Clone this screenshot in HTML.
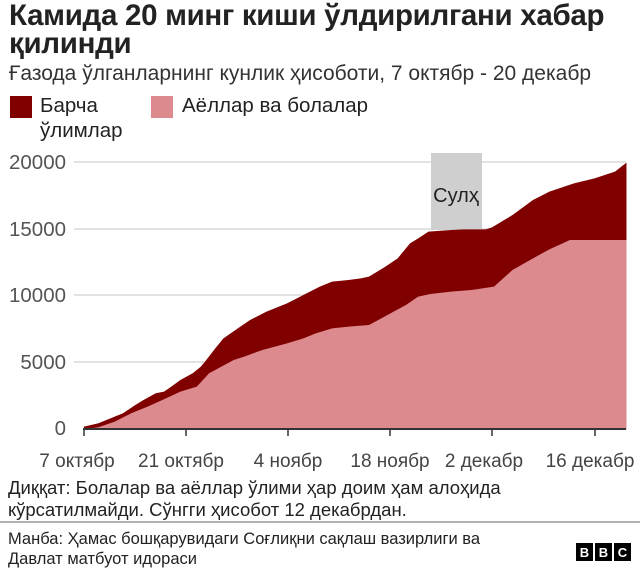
<!DOCTYPE html>
<html><head><meta charset="utf-8"><style>
body{margin:0;width:640px;height:568px;background:#fff;overflow:hidden;font-family:"Liberation Sans","DejaVu Sans",sans-serif;color:#222;position:relative}
.t{position:absolute;white-space:nowrap}
</style></head><body>
<div class="t" style="left:9px;top:2px;font-size:29.5px;font-weight:bold;line-height:28px;letter-spacing:-0.3px">Камида 20 минг киши ўлдирилгани хабар<br>қилинди</div>
<div class="t" style="left:9px;top:62px;font-size:21px;color:#333;letter-spacing:0px">Ғазода ўлганларнинг кунлик ҳисоботи, 7 октябр - 20 декабр</div>
<div class="t" style="left:10px;top:96px;width:22px;height:22px;background:#800000"></div>
<div class="t" style="left:40px;top:93px;font-size:20.5px;line-height:25px">Барча<br>ўлимлар</div>
<div class="t" style="left:151px;top:96px;width:22px;height:22px;background:#dc8a8e"></div>
<div class="t" style="left:182px;top:93px;font-size:20.5px;line-height:25px">Аёллар ва болалар</div>
<svg class="t" style="left:0;top:0" width="640" height="568">
<g stroke="#d8d8d8" stroke-width="1.5">
<line x1="74" y1="162" x2="626" y2="162"/><line x1="74" y1="229" x2="626" y2="229"/><line x1="74" y1="295" x2="626" y2="295"/><line x1="74" y1="362" x2="626" y2="362"/>
</g>
<rect x="431" y="153" width="51" height="77" fill="#cfcfcf"/>
<text x="456" y="202" font-size="20" text-anchor="middle" fill="#222" font-family="Liberation Sans">Сулҳ</text>
<g transform="translate(0,140) scale(0.41,0.3333)">
<polygon fill="#800000" points="205,868 205,860 240,850 270,835 300,820 330,795 350,780 380,760 400,755 420,738 440,720 470,700 490,680 500,665 525,625 545,595 580,565 610,540 650,515 700,490 740,465 780,440 810,425 850,420 880,415 900,410 940,380 970,355 1000,310 1020,295 1045,275 1100,270 1130,268 1185,268 1200,262 1250,225 1300,180 1340,155 1400,130 1450,115 1500,95 1528,68 1528,868"/>
<polygon fill="#dc8a8e" points="205,868 240,862 280,845 320,820 360,800 400,778 440,755 480,740 510,700 540,680 570,660 600,648 640,630 700,610 740,595 770,580 810,565 850,560 900,555 930,535 960,515 990,495 1020,470 1050,462 1100,455 1150,450 1205,440 1250,390 1300,355 1340,328 1390,300 1528,300 1528,868"/>
</g>
<line x1="83" y1="429" x2="626" y2="429" stroke="#333" stroke-width="2"/>
<g stroke="#333" stroke-width="1.5">
<line x1="84" y1="429" x2="84" y2="436"/><line x1="186" y1="429" x2="186" y2="436"/><line x1="288" y1="429" x2="288" y2="436"/><line x1="390" y1="429" x2="390" y2="436"/><line x1="492" y1="429" x2="492" y2="436"/><line x1="595" y1="429" x2="595" y2="436"/>
</g>
<g font-size="20.5" fill="#555" text-anchor="end" font-family="Liberation Sans">
<text x="66" y="169">20000</text><text x="66" y="236">15000</text><text x="66" y="302">10000</text><text x="66" y="369">5000</text><text x="66" y="435">0</text>
</g>
<g font-size="19" fill="#444" text-anchor="middle" font-family="Liberation Sans">
<text x="77" y="467">7 октябр</text><text x="181" y="467">21 октябр</text><text x="288" y="467">4 ноябр</text><text x="390" y="467">18 ноябр</text><text x="484" y="467">2 декабр</text><text x="590" y="467">16 декабр</text>
</g>
<line x1="0" y1="522" x2="640" y2="522" stroke="#666" stroke-width="1"/>
<g fill="#000"><rect x="576" y="543" width="17" height="18"/><rect x="595" y="543" width="17" height="18"/><rect x="614" y="543" width="17" height="18"/></g>
<g fill="#fff" font-size="13" font-weight="bold" text-anchor="middle" font-family="Liberation Sans"><text x="584.5" y="557">B</text><text x="603.5" y="557">B</text><text x="622.5" y="557">C</text></g>
</svg>
<div class="t" style="left:8px;top:477px;font-size:18.5px;line-height:22px;color:#222">Диққат: Болалар ва аёллар ўлими ҳар доим ҳам алоҳида<br>кўрсатилмайди. Сўнгги ҳисобот 12 декабрдан.</div>
<div class="t" style="left:8px;top:529px;font-size:16.5px;line-height:20px;color:#222">Манба: Ҳамас бошқарувидаги Соғлиқни сақлаш вазирлиги ва<br>Давлат матбуот идораси</div>
</body></html>
